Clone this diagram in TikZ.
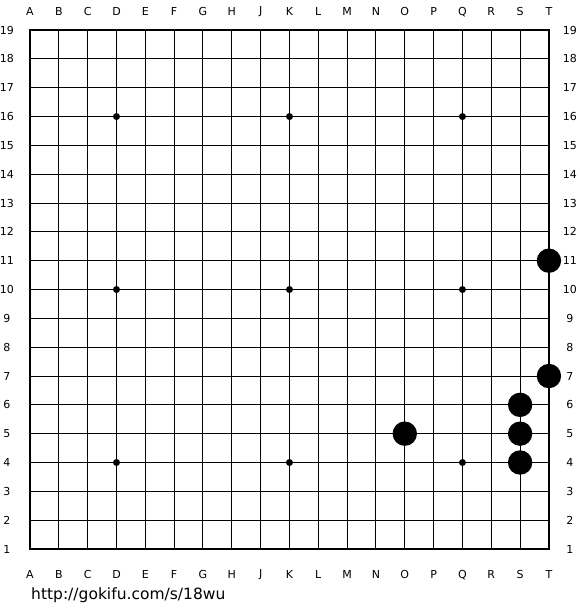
\documentclass[tikz,border=0pt]{standalone}
\usepackage{fontspec}
\setmainfont{DejaVu Sans}
\usepackage{tikz}
\usetikzlibrary{positioning,calc}

\tikzset{
  coordlabel/.style={inner sep=0pt, font=\fontsize{11}{13}\selectfont},
  stone/.style={fill=black},
  hoshi/.style={fill=black}
}

\begin{document}
\begin{tikzpicture}[x=1pt,y=1pt]
  \useasboundingbox (0,0) rectangle (580,610);
  \fill[white] (0,0) rectangle (580,610);
  \begin{scope}[shift={(30,61)}, x=28.83pt, y=28.83pt]
    % Grid
    \foreach \i in {1,...,17} {
      \draw[line width=1pt] (\i,0) -- (\i,18);
      \draw[line width=1pt] (0,\i) -- (18,\i);
    }
    % Border
    \draw[line width=2.5pt] (0,0) rectangle (18,18);
    % Star points
    \foreach \a in {3,9,15}
      \foreach \b in {3,9,15}
        \fill[hoshi] (\a,\b) circle (3.5pt);
    % Column letters
    \foreach \l [count=\i from 0] in {A,B,C,D,E,F,G,H,J,K,L,M,N,O,P,Q,R,S,T} {
      \node[coordlabel] (top-\l) at (\i,18.63) {\l};
      \node[coordlabel] (bot-\l) at (\i,-0.9) {\l};
    }
    % Row numbers
    \foreach \r in {1,...,19} {
      \node[coordlabel] (left-\r) at (-0.8,\r-1) {\r};
      \node[coordlabel] (right-\r) at (18.73,\r-1) {\r};
    }
    % Stones
    \foreach \p in {(18,10),(18,6),(17,5),(17,4),(17,3),(13,4)}
      \fill[stone] \p circle (12.2pt);
  \end{scope}
  % Link
  \node[anchor=base west, inner sep=0pt, font=\fontsize{15.5}{17}\selectfont] (link) at (31,10) {http://gokifu.com/s/18wu};
\end{tikzpicture}
\end{document}
